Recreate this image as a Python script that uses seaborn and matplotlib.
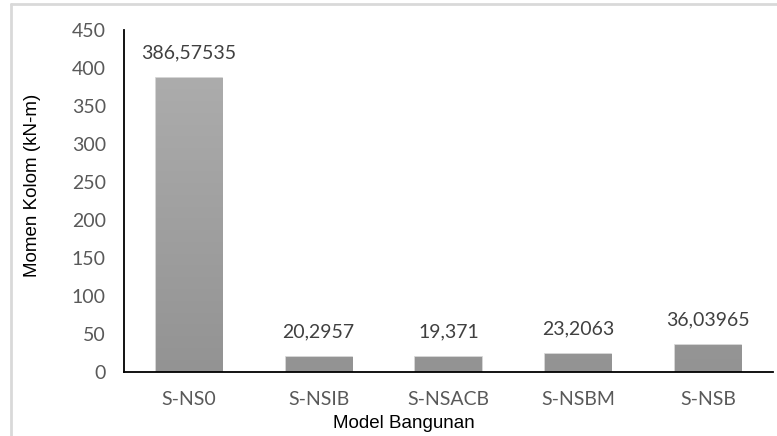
import matplotlib
matplotlib.use("Agg")
import matplotlib.pyplot as plt
import seaborn as sns
import pandas as pd
import numpy as np
from matplotlib.lines import Line2D
from matplotlib.colors import LinearSegmentedColormap

# data
models = ["S-NS0", "S-NSIB", "S-NSACB", "S-NSBM", "S-NSB"]
momen = [386.57535, 20.2957, 19.371, 23.2063, 36.03965]
value_labels = ["386,57535", "20,2957", "19,371", "23,2063", "36,03965"]
y_ticks = [0, 50, 100, 150, 200, 250, 300, 350, 400, 450]

df = pd.DataFrame({"Model": models, "Momen": momen})

sns.set_style("white")
plt.rcParams["font.family"] = ["Lato", "DejaVu Sans"]

W, H = 777, 436
fig = plt.figure(figsize=(W / 100, H / 100), dpi=100)

# axes placed in pixel coords
x0, x1, y_top, y_bot = 124, 773, 30, 372
ax = fig.add_axes([x0 / W, (H - y_bot) / H, (x1 - x0) / W, (y_bot - y_top) / H])

sns.barplot(data=df, x="Model", y="Momen", color="#a3a3a3", saturation=1,
            width=0.51, ax=ax, edgecolor="#cdcdcd", linewidth=1.2)

ax.set_ylim(0, 450)
ax.set_yticks(y_ticks)
ax.set_xlim(-0.5, len(models) - 0.5)

# vertical gray gradient fill like the Excel bars
grad_cmap = LinearSegmentedColormap.from_list("g", ["#939393", "#b0b0b0"])
grad = np.linspace(0, 1, 256).reshape(-1, 1)
for p in ax.patches:
    im = ax.imshow(grad, cmap=grad_cmap, origin="lower", aspect="auto",
                   extent=[-0.5, len(models) - 0.5, 0, 450], zorder=p.get_zorder() + 0.1)
    im.set_clip_path(p)
ax.set_xlim(-0.5, len(models) - 0.5)
ax.set_ylim(0, 450)

for i, lab in enumerate(value_labels):
    ax.annotate(lab, (i, momen[i]), xytext=(0, 12), textcoords="offset points",
                ha="center", va="bottom", fontsize=14, color="#404040")

ax.tick_params(axis="both", length=0, labelsize=14, labelcolor="#595959")
ax.tick_params(axis="x", pad=14)
ax.tick_params(axis="y", pad=13)

for s in ["top", "right"]:
    ax.spines[s].set_visible(False)
for s in ["left", "bottom"]:
    ax.spines[s].set_color("black")
    ax.spines[s].set_linewidth(1.3)
    ax.spines[s].set_zorder(5)

ax.set_xlabel("")
ax.set_ylabel("")
fig.text(404 / W, 1 - 423 / H, "Model Bangunan", ha="center", va="center",
         fontsize=13.5, family="Liberation Sans", color="black")
fig.text(33 / W, 1 - 185 / H, "Momen Kolom (kN-m)", ha="center", va="center",
         rotation=90, fontsize=13.5, family="Liberation Sans", color="black")

# light frame line at top and left, like the exported chart area
fig.add_artist(Line2D([11 / W, 11 / W], [0, 1 - 4 / H], transform=fig.transFigure,
                      color="#d9d9d9", lw=2))
fig.add_artist(Line2D([11 / W, 1], [1 - 4 / H, 1 - 4 / H], transform=fig.transFigure,
                      color="#d9d9d9", lw=2))

fig.savefig("out.png", dpi=100)
